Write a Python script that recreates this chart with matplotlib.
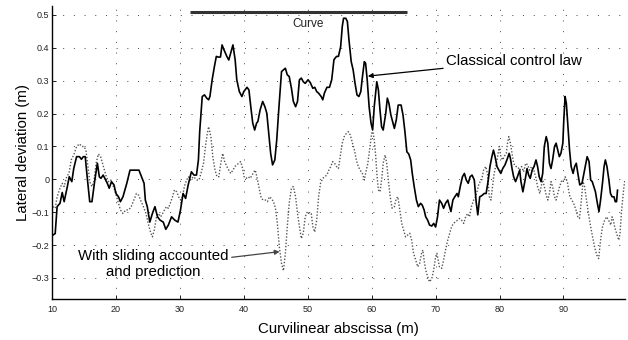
import matplotlib
matplotlib.use("Agg")
import matplotlib.pyplot as plt

plt.rcParams['font.family'] = ['Liberation Sans', 'DejaVu Sans']

# Classical control law (solid)
classical_x = [10.1, 10.5, 10.8, 11.25, 11.6, 11.9, 12.4, 12.7, 13.1, 13.4, 13.85, 14.3, 14.6, 14.9, 15.2,
               15.5, 15.9, 16.25, 16.7, 17.1, 17.4, 17.65, 18.0, 18.4, 18.65, 18.95, 19.3, 19.7, 20.0, 20.4,
               20.7, 21.1, 21.7, 22.2, 23.0, 23.6, 24.0, 24.4, 24.6, 24.9, 25.3, 25.7, 26.1, 26.5, 26.9,
               27.4, 27.8, 28.2, 28.7, 29.2, 29.7, 30.1, 30.5, 30.9, 31.3, 31.8, 32.2, 32.6, 32.9,
               33.1, 33.5, 33.85, 34.2, 34.5, 34.7, 35.05, 35.4, 35.7, 36.0, 36.35, 36.6, 36.9, 37.35, 37.65,
               37.95, 38.3, 38.65, 38.9, 39.3, 39.7, 40.0, 40.5, 40.8, 41.15, 41.4, 41.7, 42.0, 42.2, 42.55,
               42.95, 43.3, 43.6, 43.9, 44.2, 44.5, 44.85, 45.15, 45.5, 45.9, 46.2, 46.5, 46.8, 47.1, 47.45,
               47.75, 48.1, 48.4, 48.7, 49.0, 49.3, 49.6, 50.05, 50.4, 50.8, 51.1, 51.4, 51.7, 52.1, 52.35,
               52.6, 53.0, 53.4, 53.75, 54.1, 54.5, 54.8, 55.15, 55.4, 55.6, 55.95, 56.2, 56.45, 56.8, 57.1,
               57.4, 57.7, 58.0, 58.3, 58.5, 58.85, 59.05, 59.3, 59.6, 59.9, 60.15, 60.4, 60.8, 61.05, 61.3,
               61.55, 61.8, 62.2, 62.45, 62.7, 63.0, 63.2, 63.55, 63.85, 64.15, 64.6, 64.9, 65.2, 65.5, 65.8,
               66.1, 66.35, 66.65, 67.0, 67.3, 67.65, 67.9, 68.2, 68.45, 68.75, 69.05, 69.4, 69.7, 70.0, 70.3,
               70.6, 70.95, 71.25, 71.55, 71.9, 72.1, 72.4, 72.7, 73.0, 73.35, 73.55, 73.85, 74.2, 74.5, 74.8,
               75.1, 75.4, 75.7, 76.05, 76.35, 76.6, 76.9, 77.2, 77.6, 77.9, 78.2, 78.5, 78.8, 79.05, 79.3,
               79.6, 79.9, 80.2, 80.5, 80.85, 81.15, 81.5, 81.7, 81.95, 82.2, 82.5, 82.8, 83.15, 83.35, 83.65,
               84.0, 84.3, 84.55, 84.8, 85.1, 85.4, 85.7, 85.95, 86.2, 86.5, 86.75, 87.0, 87.3, 87.55, 87.8,
               88.05, 88.3, 88.6, 88.85, 89.1, 89.35, 89.6, 89.9, 90.05, 90.25, 90.45, 90.7, 90.95, 91.2, 91.5,
               91.75, 92.0, 92.25, 92.55, 92.9, 93.2, 93.5, 93.7, 94.0, 94.25, 94.5, 94.75, 95.0, 95.3, 95.55,
               95.8, 96.1, 96.35, 96.55, 96.8, 97.1, 97.35, 97.6, 97.9, 98.1, 98.3, 98.45]
classical_y = [-0.17, -0.165, -0.083, -0.073, -0.04, -0.068, -0.022, 0.008, -0.007, 0.033, 0.069, 0.069, 0.061, 0.069, 0.069,
               0.008, -0.068, -0.068, -0.002, 0.049, 0.008, 0.003, 0.013, -0.002, -0.012, -0.027, -0.007, -0.017, -0.043, -0.053,
               -0.068, -0.053, -0.012, 0.028, 0.028, 0.028, 0.008, -0.012, -0.063, -0.083, -0.13, -0.104, -0.083, -0.114, -0.124,
               -0.13, -0.152, -0.139, -0.114, -0.124, -0.13, -0.093, -0.043, -0.058, -0.017, 0.023, 0.013, 0.013, 0.059,
               0.145, 0.252, 0.257, 0.247, 0.242, 0.252, 0.303, 0.343, 0.374, 0.372, 0.372, 0.409, 0.394, 0.374, 0.363,
               0.384, 0.409, 0.363, 0.303, 0.267, 0.252, 0.267, 0.28, 0.272, 0.211, 0.171, 0.15, 0.171, 0.176, 0.211,
               0.237, 0.221, 0.201, 0.14, 0.079, 0.044, 0.059, 0.12, 0.221, 0.328, 0.333, 0.338, 0.318, 0.313, 0.277,
               0.237, 0.221, 0.237, 0.303, 0.308, 0.297, 0.292, 0.303, 0.294, 0.277, 0.28, 0.267, 0.262, 0.252, 0.242,
               0.262, 0.28, 0.28, 0.303, 0.364, 0.374, 0.374, 0.404, 0.465, 0.49, 0.49, 0.48, 0.424, 0.358, 0.333,
               0.292, 0.257, 0.252, 0.267, 0.303, 0.358, 0.353, 0.303, 0.221, 0.171, 0.15, 0.221, 0.297, 0.272, 0.211,
               0.16, 0.15, 0.201, 0.247, 0.231, 0.196, 0.181, 0.155, 0.181, 0.226, 0.226, 0.196, 0.145, 0.084, 0.077,
               0.059, 0.018, -0.022, -0.063, -0.083, -0.073, -0.078, -0.093, -0.114, -0.124, -0.139, -0.142, -0.134, -0.145, -0.114,
               -0.063, -0.073, -0.088, -0.073, -0.063, -0.078, -0.098, -0.063, -0.053, -0.043, -0.053, -0.022, 0.008, 0.018, -0.002,
               -0.012, 0.008, 0.013, -0.002, -0.07, -0.108, -0.053, -0.05, -0.043, -0.043, -0.007, 0.039, 0.069, 0.089, 0.069,
               0.039, 0.028, 0.018, 0.033, 0.044, 0.059, 0.079, 0.064, 0.033, 0.008, -0.007, 0.008, 0.028, -0.007, -0.038,
               -0.002, 0.033, 0.013, 0.003, 0.028, 0.039, 0.059, 0.039, 0.008, -0.007, 0.018, 0.1, 0.13, 0.11, 0.049,
               0.033, 0.059, 0.1, 0.11, 0.089, 0.069, 0.079, 0.11, 0.181, 0.252, 0.231, 0.16, 0.089, 0.039, 0.018,
               0.039, 0.049, 0.018, -0.017, -0.012, 0.018, 0.049, 0.069, 0.054, -0.002, -0.007, -0.022, -0.038, -0.073, -0.098,
               -0.063, -0.012, 0.039, 0.059, 0.039, -0.002, -0.043, -0.053, -0.053, -0.068, -0.068, -0.033]

# With sliding accounted and prediction (dotted)
sliding_x = [10.1, 10.5, 10.8, 11.25, 11.6, 11.9, 12.3, 12.65, 13.0, 13.4, 13.85, 14.3, 14.65, 15.0, 15.3,
             15.7, 15.9, 16.25, 16.55, 16.9, 17.25, 17.6, 17.9, 18.2, 18.5, 18.85, 19.2, 19.5, 19.8, 20.1,
             20.4, 20.7, 21.1, 21.55, 22.0, 22.4, 22.8, 23.2, 23.55, 23.85, 24.3, 24.7, 25.05, 25.4, 25.7,
             26.0, 26.35, 26.65, 27.0, 27.3, 27.6, 27.9, 28.2, 28.5, 28.85, 29.15, 29.5, 29.8, 30.1, 30.4,
             30.7, 31.05, 31.35, 31.65, 32.1, 32.4, 32.7, 33.0, 33.3, 33.7, 34.0, 34.3, 34.5, 34.85, 35.15,
             35.5, 35.8, 36.1, 36.4, 36.7, 37.0, 37.35, 37.65, 37.95, 38.3, 38.6, 38.9, 39.2, 39.5, 39.75,
             40.05, 40.35, 40.7, 41.0, 41.3, 41.6, 41.8, 42.15, 42.45, 42.75, 43.05, 43.4, 43.7, 44.0, 44.3,
             44.65, 44.95, 45.25, 45.55, 45.9, 46.2, 46.5, 46.8, 47.1, 47.45, 47.75, 48.1, 48.4, 48.7, 49.0,
             49.3, 49.6, 49.95, 50.25, 50.55, 50.8, 51.1, 51.4, 51.7, 52.0, 52.35, 52.65, 53.0, 53.3, 53.6,
             53.9, 54.2, 54.5, 54.8, 55.15, 55.4, 55.7, 56.05, 56.35, 56.65, 57.0, 57.3, 57.6, 57.9, 58.2,
             58.55, 58.85, 59.05, 59.4, 59.6, 59.8, 60.0, 60.2, 60.4, 60.6, 60.85, 61.05, 61.3, 61.55, 61.8,
             62.1, 62.35, 62.6, 62.9, 63.2, 63.55, 63.85, 64.1, 64.4, 64.7, 65.0, 65.3, 65.6, 65.95, 66.25,
             66.55, 66.9, 67.2, 67.5, 67.8, 68.0, 68.2, 68.45, 68.75, 69.05, 69.4, 69.7, 70.0, 70.2, 70.4,
             70.6, 70.95, 71.25, 71.55, 71.9, 72.2, 72.5, 72.8, 73.1, 73.45, 73.75, 74.05, 74.4, 74.7, 75.0,
             75.3, 75.6, 75.95, 76.25, 76.55, 76.8, 77.2, 77.5, 77.85, 78.1, 78.4, 78.65, 78.9, 79.15, 79.4,
             79.7, 79.95, 80.2, 80.5, 80.7, 81.05, 81.25, 81.45, 81.7, 81.95, 82.2, 82.5, 82.8, 83.15, 83.45,
             83.75, 84.1, 84.4, 84.7, 85.0, 85.35, 85.65, 85.95, 86.3, 86.5, 86.75, 87.0, 87.3, 87.55, 87.8,
             88.05, 88.3, 88.6, 88.85, 89.1, 89.4, 89.75, 90.05, 90.25, 90.6, 90.8, 91.0, 91.3, 91.6, 91.95,
             92.25, 92.5, 92.75, 93.05, 93.3, 93.6, 93.9, 94.25, 94.55, 94.85, 95.2, 95.5, 95.8, 96.1, 96.45,
             96.75, 97.05, 97.4, 97.6, 97.8, 98.0, 98.3, 98.65, 98.85, 99.05, 99.4, 99.6]
sliding_y = [-0.083, -0.088, -0.053, -0.027, -0.012, -0.022, 0.008, 0.018, 0.059, 0.074, 0.1, 0.108, 0.1, 0.1, 0.089,
             0.028, -0.007, -0.022, -0.007, 0.049, 0.077, 0.069, 0.049, 0.028, 0.008, -0.007, -0.002, -0.017, -0.032, -0.053,
             -0.073, -0.093, -0.104, -0.093, -0.093, -0.083, -0.063, -0.043, -0.048, -0.063, -0.083, -0.104, -0.134, -0.16, -0.175,
             -0.154, -0.114, -0.104, -0.114, -0.104, -0.093, -0.083, -0.088, -0.073, -0.053, -0.032, -0.038, -0.053, -0.063, -0.053,
             -0.022, -0.002, 0.008, -0.002, 0.008, 0.003, -0.002, -0.002, 0.018, 0.049, 0.1, 0.14, 0.16, 0.13, 0.069,
             0.028, 0.008, 0.008, 0.049, 0.079, 0.054, 0.039, 0.028, 0.018, 0.028, 0.039, 0.044, 0.049, 0.054, 0.039,
             0.008, 0.003, 0.008, 0.003, 0.013, 0.023, 0.028, -0.002, -0.032, -0.058, -0.063, -0.063, -0.068, -0.053, -0.058,
             -0.068, -0.088, -0.134, -0.205, -0.256, -0.278, -0.225, -0.144, -0.073, -0.027, -0.022, -0.053, -0.104, -0.144, -0.18,
             -0.164, -0.114, -0.098, -0.104, -0.104, -0.144, -0.16, -0.124, -0.053, -0.012, 0.003, 0.008, 0.013, 0.028, 0.039,
             0.054, 0.049, 0.039, 0.033, 0.079, 0.11, 0.13, 0.14, 0.145, 0.135, 0.11, 0.089, 0.059, 0.039, 0.028,
             0.018, -0.002, 0.018, 0.049, 0.079, 0.11, 0.14, 0.145, 0.12, 0.079, 0.008, -0.032, -0.038, -0.002, 0.049,
             0.074, 0.049, -0.002, -0.053, -0.088, -0.083, -0.058, -0.053, -0.093, -0.134, -0.154, -0.175, -0.17, -0.164, -0.185,
             -0.225, -0.246, -0.266, -0.256, -0.225, -0.215, -0.246, -0.276, -0.296, -0.312, -0.302, -0.276, -0.236, -0.225, -0.246,
             -0.266, -0.271, -0.246, -0.215, -0.185, -0.164, -0.144, -0.134, -0.129, -0.124, -0.119, -0.124, -0.134, -0.114, -0.104,
             -0.114, -0.083, -0.063, -0.053, -0.032, -0.012, -0.002, 0.028, 0.039, 0.018, -0.053, -0.063, -0.022, 0.018, 0.039,
             0.069, 0.1, 0.069, 0.059, 0.069, 0.079, 0.11, 0.13, 0.11, 0.079, 0.049, 0.039, 0.039, 0.028, 0.039,
             0.023, 0.049, 0.044, 0.028, 0.039, 0.028, 0.008, -0.022, -0.043, -0.022, -0.002, -0.022, -0.048, -0.063, -0.043,
             -0.007, -0.022, -0.053, -0.063, -0.043, -0.022, -0.002, -0.007, 0.008, -0.007, -0.032, -0.053, -0.063, -0.073, -0.093,
             -0.114, -0.119, -0.073, -0.007, -0.022, -0.063, -0.104, -0.144, -0.175, -0.205, -0.23, -0.241, -0.185, -0.144, -0.124,
             -0.114, -0.124, -0.139, -0.114, -0.124, -0.144, -0.164, -0.185, -0.164, -0.104, -0.032, -0.002]

# Curve section marker
curve_span = [31.6, 65.6]
curve_level = [0.508, 0.508]

x_ticks = [10, 20, 30, 40, 50, 60, 70, 80, 90]
y_ticks = [-0.3, -0.2, -0.1, 0, 0.1, 0.2, 0.3, 0.4, 0.5]
y_tick_labels = ['\u22120.3', '\u22120.2', '\u22120.1', '0', '0.1', '0.2', '0.3', '0.4', '0.5']

fig = plt.figure(figsize=(6.28, 3.40), dpi=100)
ax = fig.add_axes([0.0828, 0.1206, 0.9122, 0.8614])

ax.plot(sliding_x, sliding_y, color='#555555', lw=1.0, linestyle=(0, (1, 1.3)))
ax.plot(classical_x, classical_y, color='black', lw=1.2)
ax.plot(curve_span, curve_level, color='#333333', lw=2.2, solid_capstyle='butt')

ax.set_xlim(10, 99.6)
ax.set_ylim(-0.364, 0.527)
ax.set_xticks(x_ticks)
ax.set_yticks(y_ticks)
ax.set_yticklabels(y_tick_labels)

ax.grid(True, color='#444444', linestyle=(0, (1, 10)), lw=0.7)
for s in ['top', 'right']:
    ax.spines[s].set_visible(False)
for s in ['left', 'bottom']:
    ax.spines[s].set_linewidth(1.0)
ax.tick_params(direction='in', length=3, width=0.7, labelsize=6.5, colors='#222222')
ax.tick_params(axis='x', pad=4)
ax.tick_params(axis='y', pad=2)

ax.set_xlabel('Curvilinear abscissa (m)', fontsize=10.8, labelpad=6)
ax.set_ylabel('Lateral deviation (m)', fontsize=10.8, labelpad=1)

ax.text(50.0, 0.474, 'Curve', fontsize=8.5, ha='center', va='center', color='#222222')

ax.annotate('Classical control law', xy=(59.4, 0.314), xytext=(71.6, 0.36),
            fontsize=10.8, ha='left', va='center',
            arrowprops=dict(arrowstyle='-|>', color='black', lw=0.9, mutation_scale=7,
                            shrinkA=0, shrinkB=0))
ax.annotate('With sliding accounted\nand prediction', xy=(45.6, -0.22), xytext=(25.9, -0.258),
            fontsize=10.8, ha='center', va='center', linespacing=1.15,
            arrowprops=dict(arrowstyle='-|>', color='#444444', lw=0.9, mutation_scale=7,
                            shrinkA=0, shrinkB=0, relpos=(1.0, 0.72)))

fig.savefig('out.png', dpi=100)
